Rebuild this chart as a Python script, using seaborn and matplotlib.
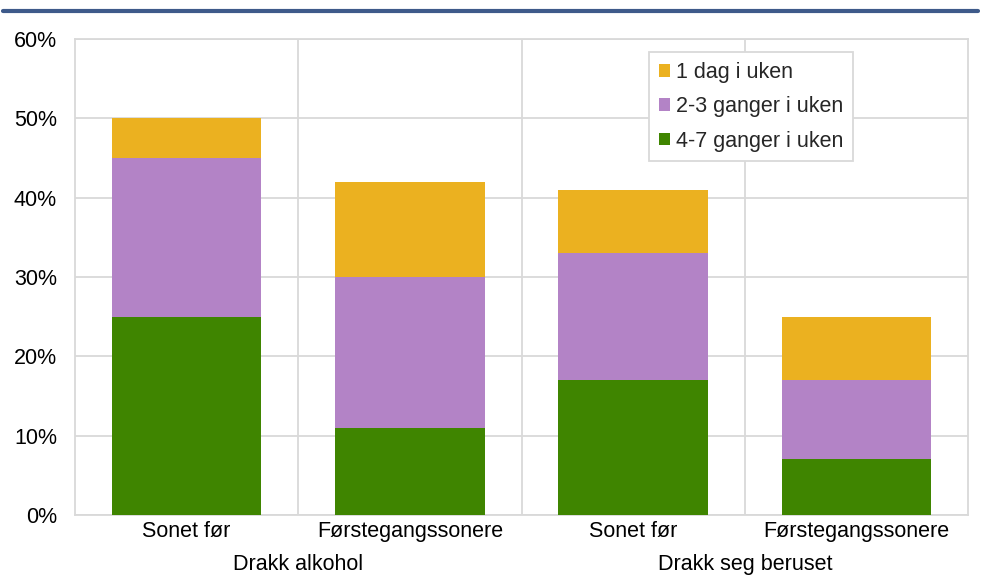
import matplotlib
matplotlib.use("Agg")
import matplotlib.pyplot as plt
import seaborn as sns
import pandas as pd
import numpy as np
from matplotlib.patches import Patch

categories = ["Sonet før", "Førstegangssonere", "Sonet før", "Førstegangssonere"]
groups = ["Drakk alkohol", "Drakk seg beruset"]
series_names = ["1 dag i uken", "2-3 ganger i uken", "4-7 ganger i uken"]
v_4_7 = [25, 11, 17, 7]
v_2_3 = [20, 19, 16, 10]
v_1 = [5, 12, 8, 8]
y_ticks = [0, 10, 20, 30, 40, 50, 60]

colors = {"1 dag i uken": "#EBB120", "2-3 ganger i uken": "#B383C6", "4-7 ganger i uken": "#3F8500"}

sns.set_theme(style="white")
plt.rcParams['font.family'] = ['Liberation Sans', 'DejaVu Sans']

keys = [f"c{i}" for i in range(len(categories))]
g = np.array(v_4_7)
p = g + np.array(v_2_3)
t = p + np.array(v_1)
df = pd.DataFrame({"key": keys, "top": t, "mid": p, "bot": g})

fig = plt.figure(figsize=(9.87, 5.75), dpi=100)
ax = fig.add_axes([0.076, 0.1043, 0.905, 0.8278])

for col, name in [("top", "1 dag i uken"), ("mid", "2-3 ganger i uken"), ("bot", "4-7 ganger i uken")]:
    sns.barplot(data=df, x="key", y=col, order=keys, color=colors[name], width=0.67,
                saturation=1, ax=ax, zorder=3, linewidth=0, edgecolor="none")

FS = 15.5
ax.set_ylim(0, 60)
ax.set_xlim(-0.5, 3.5)
ax.set_yticks(y_ticks)
ax.set_yticklabels([f"{v}%" for v in y_ticks], fontsize=FS, color="#000000")
ax.set_xticks(range(4))
ax.set_xticklabels(categories, fontsize=FS, color="#000000")
ax.set_xlabel("")
ax.set_ylabel("")
ax.tick_params(axis="x", length=0, pad=4)
ax.tick_params(axis="y", length=0, pad=13)

ax.yaxis.grid(True, color="#D9D9D9", linewidth=1.3, zorder=0)
for xb in [0.5, 1.5, 2.5]:
    ax.axvline(xb, color="#D9D9D9", linewidth=1.3, zorder=0)
for s in ax.spines.values():
    s.set_visible(True)
    s.set_color("#D9D9D9")
    s.set_linewidth(1.3)

for i, gname in enumerate(groups):
    ax.text(0.5 + 2 * i, -0.082, gname, transform=ax.get_xaxis_transform(),
            ha="center", va="top", fontsize=FS, color="#000000")

handles = [Patch(facecolor=colors[n], edgecolor="none") for n in series_names]
leg = ax.legend(handles, series_names, loc="upper left", bbox_to_anchor=(0.643, 0.972),
                fontsize=FS, frameon=True, fancybox=False, framealpha=1,
                handlelength=0.53, handleheight=0.53,
                handletextpad=0.25, labelspacing=0.62, borderpad=0.45, borderaxespad=0)
leg.get_frame().set_edgecolor("#D9D9D9")
leg.get_frame().set_linewidth(1.3)
leg.set_zorder(10)

# top rule
fig.add_artist(plt.Line2D([0.003, 0.991], [1 - 11 / 575, 1 - 11 / 575], color="#3E5A8A",
                          linewidth=3, transform=fig.transFigure))

fig.savefig("out.png", dpi=100)
